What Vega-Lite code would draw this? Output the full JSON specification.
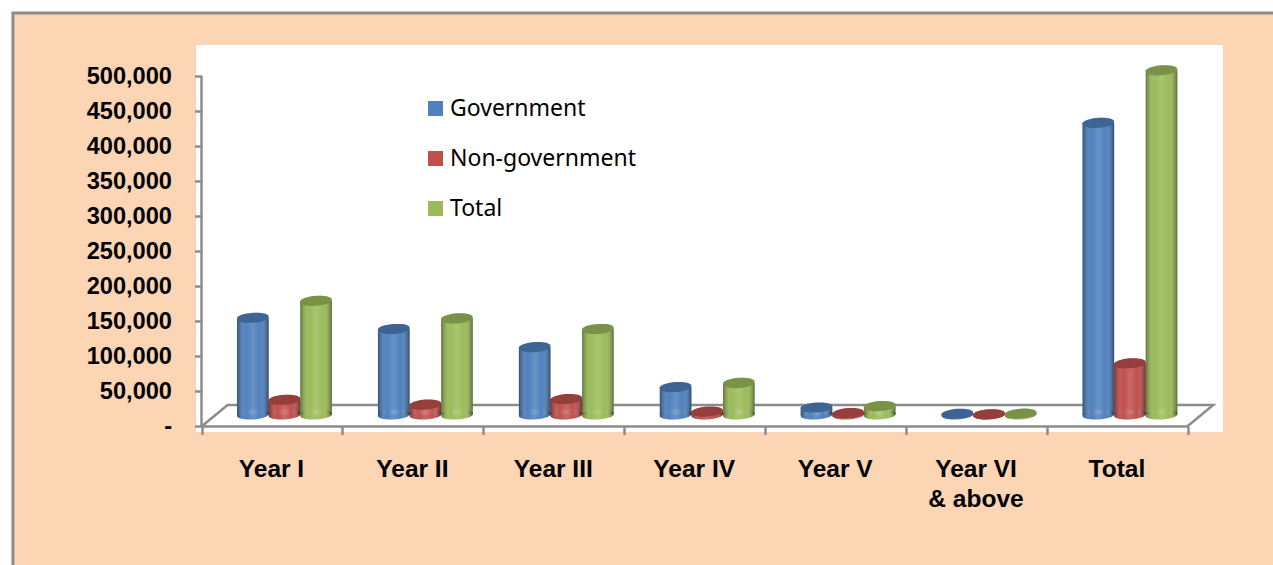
{
"$schema":"https://vega.github.io/schema/vega-lite/v6.json",
"width":1027,"height":387,
"autosize":"none",
"padding":{"left":196,"top":45,"right":50,"bottom":133},
"background":"#ffffff",
"config":{"view":{"stroke":null},"font":"Liberation Sans"},
"datasets":{
"frame":[
{"part":"panel","x0":-1.339,"x1":7.73,"y0":-204707,"y1":589872},
{"part":"plot","x0":-0.0391,"x1":7.2543,"y0":-7846,"y1":544223}],
"lines":[
{"part":"wall","seq":1,"pos":0,"level":0},
{"part":"wall","seq":2,"pos":0,"level":500000},
{"part":"floor","seq":1,"pos":0,"level":0},
{"part":"floor","seq":2,"pos":7,"level":0},
{"part":"floor","seq":3,"pos":7.185,"level":30670},
{"part":"floor","seq":4,"pos":0.185,"level":30670},
{"part":"floor","seq":5,"pos":0,"level":0}],
"bars":[
{"year":"Year I","series":"Government","value":138000},
{"year":"Year I","series":"Non-government","value":21000},
{"year":"Year I","series":"Total","value":162000},
{"year":"Year II","series":"Government","value":122000},
{"year":"Year II","series":"Non-government","value":14000},
{"year":"Year II","series":"Total","value":137000},
{"year":"Year III","series":"Government","value":96000},
{"year":"Year III","series":"Non-government","value":22000},
{"year":"Year III","series":"Total","value":122000},
{"year":"Year IV","series":"Government","value":39000},
{"year":"Year IV","series":"Non-government","value":4000},
{"year":"Year IV","series":"Total","value":45000},
{"year":"Year V","series":"Government","value":10000},
{"year":"Year V","series":"Non-government","value":2000},
{"year":"Year V","series":"Total","value":12000},
{"year":"Year VI & above","series":"Government","value":1000},
{"year":"Year VI & above","series":"Non-government","value":300},
{"year":"Year VI & above","series":"Total","value":1200},
{"year":"Total","series":"Government","value":416000},
{"year":"Total","series":"Non-government","value":73000},
{"year":"Total","series":"Total","value":491000}]
},
"layer":[
{
"encoding":{
"y":{"field":"y0","type":"quantitative","scale":{"domain":[-7846,544223]},
"axis":{"title":null,"domain":false,"grid":false,"values":[0,50000,100000,150000,200000,250000,300000,350000,400000,450000,500000],
"labelExpr":"datum.value==0?'-':format(datum.value,',')","offset":-5.5,"tickSize":7,"tickWidth":2.5,"tickColor":"#8c8c8c","labelPadding":23,"labelFont":"Liberation Sans","labelFontWeight":"bold","labelFontSize":23.6,"labelColor":"#000000","zindex":1}}
},
"layer":[
{"data":{"name":"frame"},"transform":[{"filter":"datum.part=='panel'"}],
"mark":{"type":"rect","fill":"#fcd5b5","stroke":"#8c8c8c","strokeWidth":3},
"encoding":{"x":{"field":"x0","type":"quantitative","axis":null,"scale":{"domain":[-0.0391,7.2543]}},"x2":{"field":"x1"},"y2":{"field":"y1"}}},
{"data":{"name":"frame"},"transform":[{"filter":"datum.part=='plot'"}],
"mark":{"type":"rect","fill":"#ffffff"},
"encoding":{"x":{"field":"x0","type":"quantitative","axis":null,"scale":{"domain":[-0.0391,7.2543]}},"x2":{"field":"x1"},"y2":{"field":"y1"}}},
{"data":{"name":"lines"},
"mark":{"type":"line","color":"#8c8c8c","strokeWidth":2.5},
"encoding":{"x":{"field":"pos","type":"quantitative","axis":null,"scale":{"domain":[-0.0391,7.2543]}},"y":{"field":"level","type":"quantitative"},"detail":{"field":"part"},"order":{"field":"seq"}}}
]
},
{
"data":{"name":"bars"},
"encoding":{
"x":{"field":"year","type":"nominal","title":null,"sort":["Year I","Year II","Year III","Year IV","Year V","Year VI & above","Total"],
"scale":{"range":[18,1004.4],"paddingInner":0,"paddingOuter":0},
"axis":{"domain":false,"labelAngle":0,"bandPosition":1,"tickExtra":true,"tickOffset":-12.5,"labelOffset":-1,"offset":-5.5,"tickSize":8,"tickWidth":2.5,"tickColor":"#8c8c8c","labelPadding":23,"labelFont":"Liberation Sans","labelFontWeight":"bold","labelFontSize":24.5,"labelColor":"#000000","labelLineHeight":30,"labelExpr":"datum.label=='Year VI & above'?['Year VI','& above']:datum.label","zindex":1}},
"xOffset":{"field":"series","type":"nominal","sort":["Government","Non-government","Total"],"scale":{"paddingInner":0,"paddingOuter":0.729}},
"color":{"field":"series","type":"nominal","sort":["Government","Non-government","Total"],
"scale":{"domain":["Government","Non-government","Total"],"range":["#4f81bd","#c0504d","#9bbb59"]},
"legend":{"title":null,"orient":"none","legendX":228,"legendY":52,"symbolType":"square","symbolSize":225,"symbolStrokeWidth":0,"rowPadding":26,"labelFont":"Noto Sans","labelFontSize":23,"labelColor":"#000000","labelOffset":3,"labelLimit":300,"symbolOpacity":1,"symbolFillColor":null}}
},
"layer":[
{"mark":{"type":"point","filled":true,"opacity":1,"size":999,"shape":"M-0.99,0.07A1,0.28,-4,1,1,0.99,-0.07A1,0.28,-4,1,1,-0.99,0.07Z"},
"encoding":{"y":{"datum":0,"type":"quantitative","axis":null,"scale":{"domain":[-24964,527104]}}}},
{"mark":{"type":"bar"},
"encoding":{"y":{"field":"value","type":"quantitative","axis":null,"scale":{"domain":[-24964,527104]}}}},
{"mark":{"type":"point","filled":true,"opacity":1,"size":999,"shape":"M-0.99,0.07A1,0.28,-4,1,1,0.99,-0.07A1,0.28,-4,1,1,-0.99,0.07Z","fill":{"gradient":"linear","x1":0,"x2":1,"y1":0,"y2":0,"stops":[{"offset":0,"color":"rgba(0,0,0,0.38)"},{"offset":0.28,"color":"rgba(255,255,255,0)"},{"offset":0.5,"color":"rgba(255,255,255,0.14)"},{"offset":0.72,"color":"rgba(255,255,255,0)"},{"offset":1,"color":"rgba(0,0,0,0.42)"}]}},
"encoding":{"color":{"value":null},"y":{"datum":0,"type":"quantitative","axis":null,"scale":{"domain":[-24964,527104]}}}},
{"mark":{"type":"bar","fill":{"gradient":"linear","x1":0,"x2":1,"y1":0,"y2":0,"stops":[{"offset":0,"color":"rgba(0,0,0,0.38)"},{"offset":0.28,"color":"rgba(255,255,255,0)"},{"offset":0.5,"color":"rgba(255,255,255,0.14)"},{"offset":0.72,"color":"rgba(255,255,255,0)"},{"offset":1,"color":"rgba(0,0,0,0.42)"}]}},
"encoding":{"color":{"value":null},"y":{"field":"value","type":"quantitative","axis":null,"scale":{"domain":[-24964,527104]}}}},
{"mark":{"type":"point","filled":true,"opacity":1,"size":999,"shape":"M-0.99,0.07A1,0.28,-4,1,1,0.99,-0.07A1,0.28,-4,1,1,-0.99,0.07Z"},
"encoding":{"y":{"field":"value","type":"quantitative","axis":null,"scale":{"domain":[-24964,527104]}}}},
{"mark":{"type":"point","filled":true,"opacity":0.22,"fill":"#000000","size":999,"shape":"M-0.99,0.07A1,0.28,-4,1,1,0.99,-0.07A1,0.28,-4,1,1,-0.99,0.07Z"},
"encoding":{"color":{"value":null},"y":{"field":"value","type":"quantitative","axis":null,"scale":{"domain":[-24964,527104]}}}}
]
}
],
"resolve":{"scale":{"x":"independent","y":"independent"},"axis":{"x":"independent","y":"independent"}}
}
